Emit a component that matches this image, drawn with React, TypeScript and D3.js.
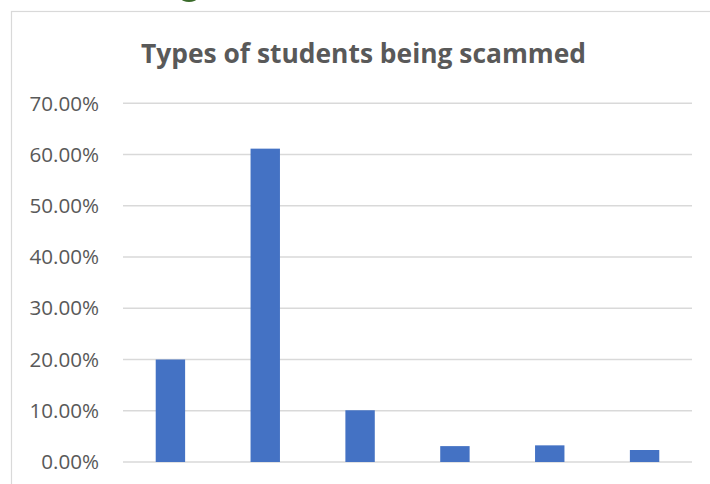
import React from "react";
import * as d3 from "d3";

const categories = ["A", "B", "C", "D", "E", "F"];
const values = [0.2, 0.6115, 0.101, 0.031, 0.0325, 0.0234];
const yTicks = [0, 0.1, 0.2, 0.3, 0.4, 0.5, 0.6, 0.7];
const title = "Types of students being scammed";

export default function App() {
  const W = 710, H = 484;
  const x = d3.scaleBand<string>().domain(categories).range([123, 692]).paddingInner(0.69).paddingOuter(0.345);
  const y = d3.scaleLinear().domain([0, 0.7]).range([462, 103.3]);
  const fmt = (v: number) => (v * 100).toFixed(2) + "%";
  return (
    <svg width={W} height={H} style={{ position: "absolute", left: 0, top: 0, background: "#fff" }}>
      <ellipse cx={189} cy={-1} rx={7.5} ry={3} fill="#3a6b2a" />
      <rect x={11.5} y={11.5} width={W + 20} height={H + 20} fill="#fff" stroke="#d9d9d9" strokeWidth={1.2} />
      <text x={363.5} y={63} textAnchor="middle" fontFamily="Open Sans" fontWeight="bold" fontSize={26.4} fill="#595959">{title}</text>
      {yTicks.map((t) => (
        <g key={t}>
          <line x1={123} x2={692} y1={y(t)} y2={y(t)} stroke="#d9d9d9" strokeWidth={1.4} />
          <text x={99} y={y(t)} dy="0.35em" textAnchor="end" fontFamily="Open Sans" fontSize={20.6} fill="#595959">{fmt(t)}</text>
        </g>
      ))}
      {categories.map((c, i) => (
        <rect key={c} x={x(c)} y={y(values[i])} width={x.bandwidth()} height={y(0) - y(values[i])} fill="#4472c4" />
      ))}
    </svg>
  );
}
